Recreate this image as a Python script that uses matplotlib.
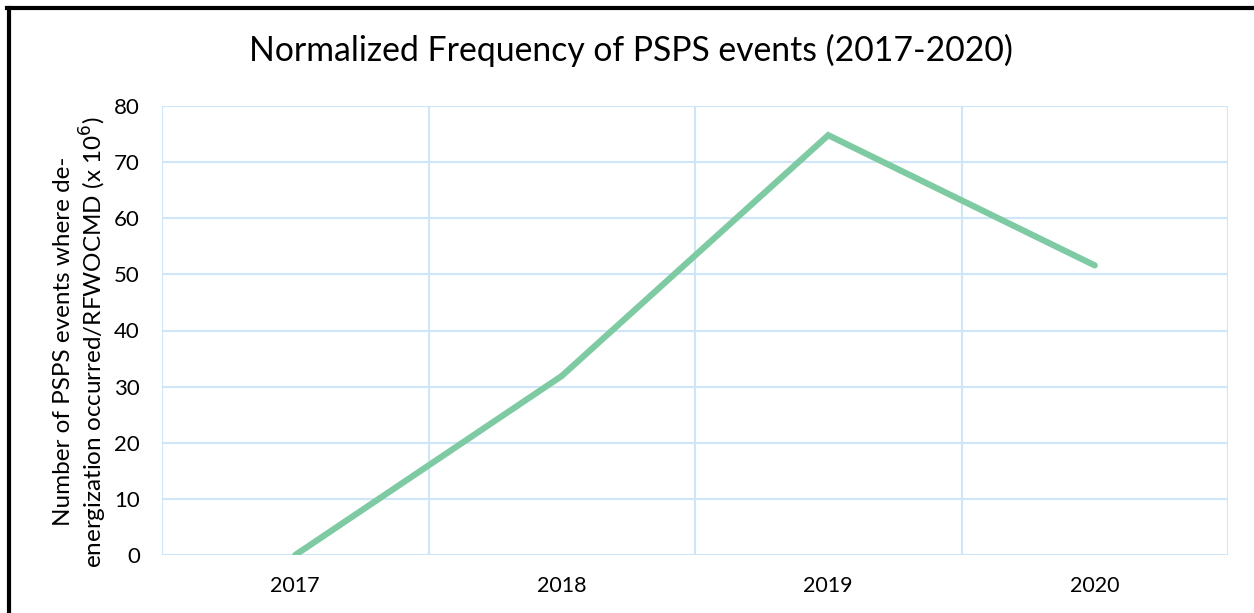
import matplotlib
matplotlib.use("Agg")
import matplotlib.pyplot as plt
from matplotlib.lines import Line2D

years = ["2017", "2018", "2019", "2020"]
values = [0.0, 31.9, 74.8, 51.6]
yticks = [0, 10, 20, 30, 40, 50, 60, 70, 80]

W, H = 1254, 613
fig = plt.figure(figsize=(W / 100, H / 100), dpi=100)
ax = fig.add_axes([162 / W, 1 - 555 / H, (1228 - 162) / W, (555 - 106) / H])

grid_c = "#cfe5f8"
line_c = "#7ecba3"
xs = list(range(len(years)))
ax.plot(xs, values, color=line_c, lw=4.5, solid_capstyle="round", solid_joinstyle="miter", zorder=3)

ax.set_xlim(-0.5, len(years) - 0.5)
ax.set_ylim(0, 80)
ax.set_yticks(yticks)
ax.set_yticklabels([str(v) for v in yticks], fontfamily="Lato", fontsize=16)
ax.set_xticks(xs)
ax.set_xticklabels(years, fontfamily="Lato", fontsize=15.5)
ax.tick_params(length=0)
ax.tick_params(axis="y", pad=16)
ax.tick_params(axis="x", pad=15)

for y in yticks:
    ax.axhline(y, color=grid_c, lw=1.5, zorder=1)
for b in [x - 0.5 for x in xs] + [len(years) - 0.5]:
    ax.axvline(b, color=grid_c, lw=1.5, zorder=1)
for s in ax.spines.values():
    s.set_visible(False)

ax.set_ylabel("Number of PSPS events where de-\nenergization occurred/RFWOCMD (x 10$^6$)",
              fontfamily="Lato", fontsize=17.5, linespacing=1.15)
ax.yaxis.set_label_coords((109 - 162) / 1066, 0.475)

fig.text(631 / W, 1 - 50 / H, "Normalized Frequency of PSPS events (2017-2020)",
         ha="center", va="center", fontfamily="Lato", fontsize=24.3)

fig.add_artist(Line2D([8.5 / W, 8.5 / W], [0, 1 - 7.5 / H], transform=fig.transFigure, color="black", lw=3))
fig.add_artist(Line2D([7 / W, 1], [1 - 7.5 / H, 1 - 7.5 / H], transform=fig.transFigure, color="black", lw=3))

fig.savefig("out.png", dpi=100)
